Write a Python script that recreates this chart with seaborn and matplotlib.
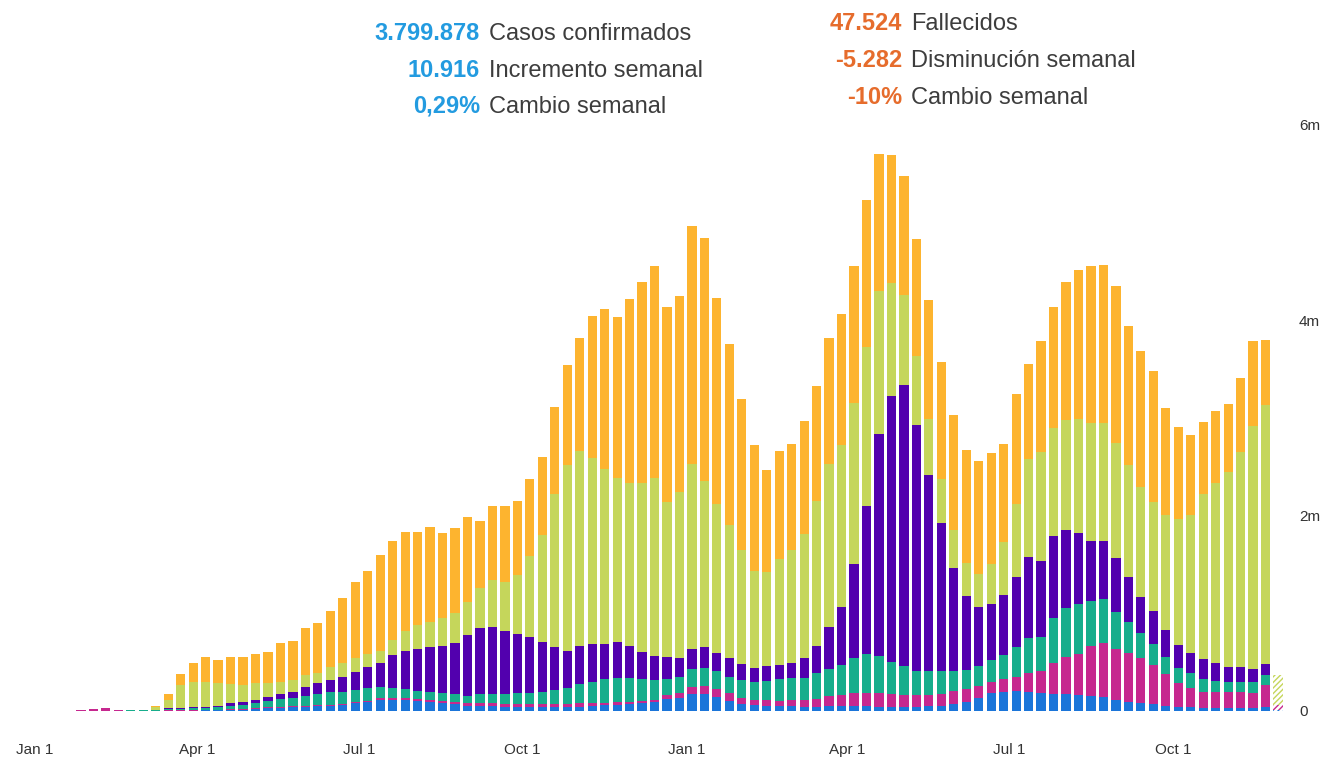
import numpy as np
import pandas as pd
import matplotlib.pyplot as plt
import seaborn as sns

sns.set_theme(style="white")
plt.rcParams['font.family'] = ['Liberation Sans', 'DejaVu Sans']

# weekly confirmed cases (thousands) by region, bottom of the stack first
weeks = pd.date_range('2020-01-20', periods=98, freq='7D')

africa = [0, 0, 0, 0, 0, 0, 1, 1, 1, 3,
          5, 7, 9, 12, 14, 25, 31, 34, 44, 44,
          51, 55, 65, 80, 95, 113, 113, 113, 102, 89,
          79, 69, 54, 51, 51, 44, 44, 44, 44, 44,
          44, 46, 54, 61, 61, 69, 79, 89, 120, 130,
          170, 170, 140, 100, 75, 62, 55, 52, 48, 46,
          46, 47, 48, 48, 47, 46, 45, 44, 45, 47,
          52, 70, 95, 130, 181, 198, 200, 198, 185, 175,
          170, 164, 154, 140, 110, 95, 86, 76, 55, 44,
          36, 30, 28, 28, 28, 28, 40, 8]
west_pacific = [4, 12, 18, 27, 6, 4, 3, 4, 7, 5,
                6, 6, 6, 6, 6, 6, 7, 8, 8, 8,
                8, 10, 10, 12, 12, 17, 17, 20, 20, 24,
                27, 27, 28, 31, 26, 28, 28, 28, 28, 28,
                28, 31, 25, 24, 34, 27, 24, 24, 44, 51,
                77, 88, 88, 83, 63, 54, 53, 48, 60, 70,
                81, 107, 117, 135, 136, 137, 131, 121, 120, 118,
                124, 132, 125, 128, 115, 126, 151, 188, 227, 313,
                380, 419, 511, 553, 525, 502, 453, 395, 324, 240,
                196, 168, 170, 170, 163, 159, 226, 50]
east_med = [0, 0, 0, 0, 1, 2, 3, 4, 16, 17,
            22, 22, 27, 33, 41, 54, 68, 78, 78, 102,
            115, 126, 123, 123, 125, 113, 102, 89, 85, 85,
            82, 79, 72, 89, 94, 99, 116, 116, 126, 143,
            161, 200, 221, 243, 239, 239, 225, 205, 164, 164,
            180, 187, 180, 169, 176, 180, 194, 232, 232, 225,
            262, 273, 307, 360, 401, 383, 325, 300, 244, 244,
            232, 207, 195, 207, 225, 249, 307, 358, 348, 467,
            502, 509, 464, 453, 382, 317, 256, 212, 177, 154,
            154, 127, 113, 102, 102, 106, 102, 0]
se_asia = [0, 0, 0, 0, 0, 0, 0, 0, 4, 5,
           8, 9, 12, 28, 28, 28, 35, 51, 61, 95,
           110, 126, 154, 187, 221, 252, 341, 395, 424, 461,
           481, 525, 624, 675, 692, 648, 598, 573, 512, 443,
           382, 389, 383, 355, 375, 331, 279, 246, 222, 194,
           206, 207, 187, 194, 169, 149, 154, 143, 154, 206,
           281, 431, 593, 956, 1511, 2268, 2718, 2875, 2512, 2005,
           1518, 1049, 761, 600, 576, 614, 716, 835, 778, 839,
           801, 733, 611, 594, 547, 454, 375, 341, 273, 238,
           205, 205, 178, 154, 160, 133, 110, 0]
europe = [0, 0, 0, 0, 1, 2, 7, 35, 85, 235,
          259, 256, 235, 194, 177, 177, 143, 129, 126, 120,
          108, 136, 137, 137, 130, 120, 154, 205, 249, 256,
          280, 307, 341, 409, 478, 505, 607, 826, 1092, 1560,
          1904, 1999, 1910, 1791, 1672, 1671, 1724, 1819, 1593, 1699,
          1894, 1705, 1518, 1361, 1162, 983, 964, 1076, 1150, 1267,
          1481, 1668, 1660, 1650, 1630, 1466, 1162, 911, 712, 570,
          450, 394, 337, 337, 402, 539, 744, 997, 1116, 1099,
          1126, 1161, 1211, 1211, 1177, 1149, 1120, 1113, 1177, 1287,
          1416, 1689, 1843, 1996, 2201, 2494, 2654, 307]
americas = [0, 0, 0, 0, 0, 0, 1, 6, 58, 110,
            194, 256, 232, 282, 283, 294, 323, 393, 402, 478,
            506, 573, 665, 784, 850, 983, 1016, 1013, 955, 972,
            870, 864, 864, 692, 760, 778, 757, 785, 801, 897,
            1016, 1150, 1450, 1637, 1648, 1877, 2063, 2166, 1990, 2009,
            2430, 2486, 2111, 1848, 1545, 1294, 1049, 1105, 1088, 1151,
            1170, 1287, 1339, 1405, 1500, 1394, 1312, 1219, 1192, 1222,
            1192, 1181, 1155, 1151, 1143, 1006, 1123, 975, 1136, 1238,
            1409, 1528, 1597, 1617, 1603, 1426, 1398, 1344, 1092, 942,
            812, 733, 733, 690, 751, 870, 665, 0]

regions = ['africa', 'west_pacific', 'east_med', 'se_asia', 'europe', 'americas']
colors = ['#1B75D9', '#C6288F', '#17AD8C', '#5200AE', '#C5D65B', '#FDB42F']

tick_dates = pd.to_datetime(['2020-01-01', '2020-04-01', '2020-07-01', '2020-10-01',
                             '2021-01-01', '2021-04-01', '2021-07-01', '2021-10-01'])
tick_labels = ['Jan 1', 'Apr 1', 'Jul 1', 'Oct 1', 'Jan 1', 'Apr 1', 'Jul 1', 'Oct 1']

cases = pd.DataFrame({'africa': africa, 'west_pacific': west_pacific, 'east_med': east_med,
                      'se_asia': se_asia, 'europe': europe, 'americas': americas},
                     index=weeks) * 1000
stacked = cases.cumsum(axis=1)
pos = np.arange(len(weeks))

fig = plt.figure(figsize=(13.3, 7.62), dpi=100)
ax = fig.add_axes([0, 51 / 762, 1288 / 1330, 606 / 762])

# draw cumulative totals from the top layer down so each one shows its own band
for name, col in reversed(list(zip(regions, colors))):
    sns.barplot(x=pos, y=stacked[name].values, color=col, saturation=1,
                width=0.74, linewidth=0, ax=ax)

# last (incomplete) week is drawn hatched
for cont, col in zip(ax.containers, reversed(colors)):
    p = cont.patches[-1]
    p.set_facecolor('white')
    p.set_edgecolor(col)
    p.set_hatch('//////')
    p.set_linewidth(0)

ax.set_xlim(-5.49, 97.8)
ax.set_ylim(0, 6.2e6)
ax.set_xticks((tick_dates - weeks[0]).days / 7)
ax.set_xticklabels(tick_labels)
ax.yaxis.tick_right()
ax.set_yticks([0, 2e6, 4e6, 6e6])
ax.set_yticklabels(['0', '2m', '4m', '6m'])
ax.tick_params(axis='x', length=0, pad=23, labelsize=11, labelcolor='#333333')
ax.tick_params(axis='y', length=0, pad=8, labelsize=11, labelcolor='#333333')
ax.set_xlabel('')
ax.set_ylabel('')
for s in ax.spines.values():
    s.set_visible(False)

# headline figures
blue_txt = '#239BE0'
orange_txt = '#E66C2C'
label_col = '#3d3d3d'
left_rows = [('3.799.878', 'Casos confirmados', 40), ('10.916', 'Incremento semanal', 77),
             ('0,29%', 'Cambio semanal', 113)]
right_rows = [('47.524', 'Fallecidos', 30), ('-5.282', 'Disminución semanal', 67),
              ('-10%', 'Cambio semanal', 104)]
for num, lab, y in left_rows:
    fig.text(480 / 1330, 1 - y / 762, num, ha='right', va='baseline', color=blue_txt,
             fontsize=17, fontweight='bold')
    fig.text(489 / 1330, 1 - y / 762, lab, ha='left', va='baseline', color=label_col, fontsize=17)
for num, lab, y in right_rows:
    fig.text(902 / 1330, 1 - y / 762, num, ha='right', va='baseline', color=orange_txt,
             fontsize=17, fontweight='bold')
    fig.text(911 / 1330, 1 - y / 762, lab, ha='left', va='baseline', color=label_col, fontsize=17)

fig.savefig('out.png', dpi=100, facecolor='white')
